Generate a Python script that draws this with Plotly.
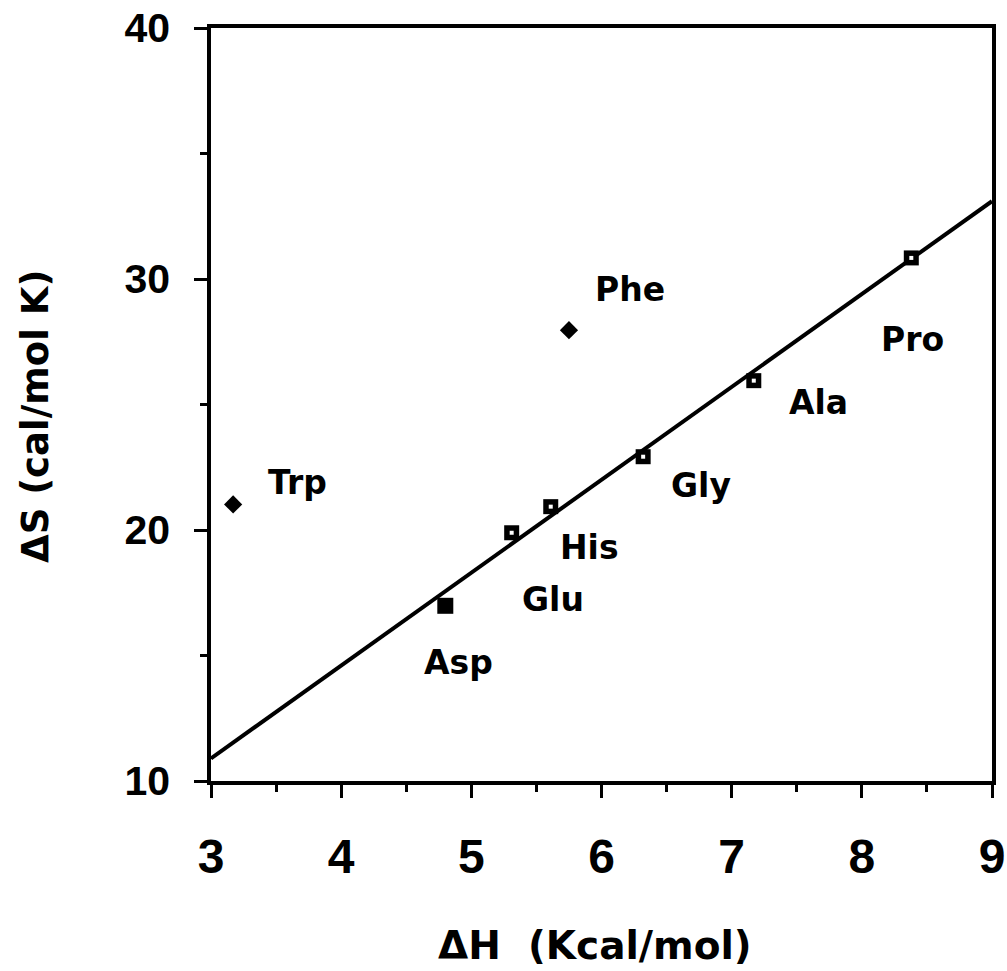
import plotly.graph_objects as go

# ---- data ----
names = ["Trp", "Phe", "Asp", "Glu", "His", "Gly", "Ala", "Pro"]
dH = [3.17, 5.75, 4.80, 5.31, 5.61, 6.32, 7.17, 8.38]
dS = [21.02, 27.96, 16.98, 19.89, 20.93, 22.92, 25.95, 30.84]
kind = ["diamond", "diamond", "square", "square-open", "square-open",
        "square-open", "square-open", "square-open"]

fit_x = [3, 9]
fit_y = [10.9, 33.1]

x_ticks = [3, 4, 5, 6, 7, 8, 9]
y_ticks = [10, 20, 30, 40]

x_title = "ΔH  (Kcal/mol)"
y_title = "ΔS (cal/mol K)"

# label offsets in pixels (dx, dy up-positive)
label_dx = [64, 61, 13, 41, 39, 58, 65, 1]
label_dy = [22, 41, -57, -67, -41, -29, -22, -82]

TICKFONT = "Liberation Sans, Arial, sans-serif"
TEXTFONT = "DejaVu Sans, sans-serif"

fig = go.Figure()

fig.add_trace(go.Scatter(
    x=fit_x, y=fit_y, mode="lines",
    line=dict(color="black", width=4),
    showlegend=False, hoverinfo="skip", cliponaxis=True))

base_sym = ["square" if k == "square-open" else k for k in kind]
sizes = [14 if k == "diamond" else 16 if k == "square" else 15 for k in kind]

fig.add_trace(go.Scatter(
    x=dH, y=dS, mode="markers",
    marker=dict(symbol=base_sym, size=sizes, color="black", opacity=1,
                line=dict(width=0)),
    showlegend=False, cliponaxis=False))

# white centres for the open squares
ox = [x for x, k in zip(dH, kind) if k == "square-open"]
oy = [y for y, k in zip(dS, kind) if k == "square-open"]
fig.add_trace(go.Scatter(
    x=ox, y=oy, mode="markers",
    marker=dict(symbol="square", size=4, color="white", opacity=1,
                line=dict(width=0)),
    showlegend=False, hoverinfo="skip", cliponaxis=False))

for n, x, y, dx, dy in zip(names, dH, dS, label_dx, label_dy):
    fig.add_annotation(
        x=x, y=y, xref="x", yref="y", text=f"<b>{n}</b>", showarrow=False,
        xshift=dx, yshift=dy, xanchor="center", yanchor="middle",
        font=dict(family=TEXTFONT, size=33, color="black"))

# axis titles
fig.add_annotation(
    x=0.4917, y=-0.2178, xref="paper", yref="paper", text=f"<b>{x_title}</b>",
    showarrow=False, xanchor="center", yanchor="middle",
    font=dict(family=TEXTFONT, size=39, color="black"))
fig.add_annotation(
    x=-0.2254, y=0.4847, xref="paper", yref="paper", text=f"<b>{y_title}</b>",
    showarrow=False, xanchor="center", yanchor="middle", textangle=-90,
    font=dict(family=TEXTFONT, size=37, color="black"))

axis_common = dict(
    showline=True, linecolor="black", linewidth=3.5, mirror=True,
    showgrid=False, zeroline=False, automargin=False,
    ticks="outside", tickcolor="black", tickwidth=3, ticklen=13,
)

fig.update_xaxes(
    **axis_common,
    range=[3, 9], tickvals=x_ticks, ticktext=[f"<b>{v}</b>" for v in x_ticks],
    tickfont=dict(family=TICKFONT, size=48, color="black"),
    ticklabelstandoff=18,
    minor=dict(tickvals=[3.5, 4.5, 5.5, 6.5, 7.5, 8.5], ticks="outside",
               ticklen=7, tickwidth=3, tickcolor="black"),
)

fig.update_yaxes(
    **axis_common,
    range=[10, 40], tickvals=y_ticks, ticktext=[f"<b>{v}</b>" for v in y_ticks],
    tickfont=dict(family=TICKFONT, size=41, color="black"),
    ticklabelstandoff=16,
    minor=dict(tickvals=[15, 25, 35], ticks="outside",
               ticklen=7, tickwidth=3, tickcolor="black"),
)

fig.update_layout(
    width=1007, height=971,
    margin=dict(l=211, r=15, t=28, b=190),
    paper_bgcolor="white", plot_bgcolor="white",
    showlegend=False,
)

fig.write_html("out.html")
